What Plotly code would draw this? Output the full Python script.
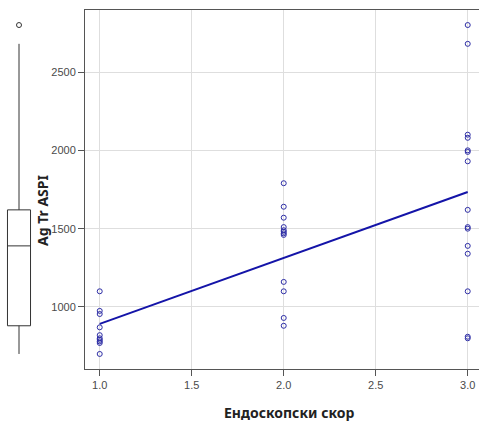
import numpy as np
import plotly.graph_objects as go

# ---- data ----
score_levels = [1.0, 2.0, 3.0]
aspi_score1 = [1100, 975, 955, 870, 820, 800, 790, 780, 770, 700]
aspi_score2 = [1790, 1640, 1570, 1510, 1490, 1480, 1470, 1460, 1160, 1100, 930, 880]
aspi_score3 = [2800, 2680, 2100, 2080, 2000, 1990, 1930, 1620, 1510, 1500, 1390, 1340, 1100, 810, 800]
x_tick_vals = [1.0, 1.5, 2.0, 2.5, 3.0]
x_tick_text = ["1.0", "1.5", "2.0", "2.5", "3.0"]
y_tick_vals = [1000, 1500, 2000, 2500]
x_title = "Ендоскопски скор"
y_title = "Ag Tr ASPI"

groups = [aspi_score1, aspi_score2, aspi_score3]
xs = np.concatenate([[lv] * len(g) for lv, g in zip(score_levels, groups)])
ys = np.concatenate(groups).astype(float)

slope, intercept = np.polyfit(xs, ys, 1)
line_x = np.array([min(score_levels), max(score_levels)])
line_y = intercept + slope * line_x

W, H = 479, 428
ML, MR, MT, MB = 0, 0, 10, 59
PLOT_L = 85

fig = go.Figure()

fig.add_trace(go.Scatter(
    x=xs, y=ys, mode="markers",
    marker=dict(symbol="circle-open", size=5, color="#2e2ea6", line=dict(width=1)),
    showlegend=False, hoverinfo="x+y",
))
fig.add_trace(go.Scatter(
    x=line_x, y=line_y, mode="lines",
    line=dict(color="#1414a8", width=2),
    showlegend=False,
))
fig.add_trace(go.Box(
    y=ys, x0=0, xaxis="x2", yaxis="y2",
    boxpoints="outliers", quartilemethod="inclusive",
    whiskerwidth=0, width=0.64,
    line=dict(color="#333333", width=1), fillcolor="white",
    marker=dict(symbol="circle-open", size=5, color="#333333"),
    showlegend=False,
))

yr = [604, 2896]
fig.update_layout(
    width=W, height=H,
    margin=dict(l=ML, r=MR, t=MT, b=MB),
    paper_bgcolor="white", plot_bgcolor="white",
    font=dict(family="Liberation Sans, Arial, sans-serif", size=11, color="#4a4a4a"),
    xaxis=dict(
        domain=[PLOT_L / W, 1], range=[0.92, 0.92 + (W - PLOT_L) / 184.0],
        tickvals=x_tick_vals, ticktext=x_tick_text,
        showgrid=True, gridcolor="#dedede", gridwidth=1,
        showline=True, linecolor="#555555", linewidth=1, mirror=True,
        ticks="outside", ticklen=6, tickcolor="#555555",
        zeroline=False, anchor="y",
    ),
    yaxis=dict(
        range=yr, tickvals=y_tick_vals,
        showgrid=True, gridcolor="#dedede", gridwidth=1,
        showline=True, linecolor="#555555", linewidth=1,
        ticks="outside", ticklen=6, tickcolor="#555555",
        zeroline=False, anchor="x",
    ),
    xaxis2=dict(domain=[1 / W, 37 / W], range=[-0.5, 0.5], visible=False, anchor="y2"),
    yaxis2=dict(range=yr, visible=False, anchor="x2"),
    annotations=[
        dict(text="<b>" + x_title + "</b>", xref="paper", yref="paper",
             x=289 / W, y=-0.12,
             xanchor="center", yanchor="middle", showarrow=False,
             font=dict(family="Noto Sans", size=14, color="#222222")),
        dict(text="<b>" + y_title + "</b>", xref="paper", yref="paper",
             x=42 / W, y=0.44, textangle=-90,
             xanchor="center", yanchor="middle", showarrow=False,
             font=dict(family="Noto Sans", size=14, color="#222222")),
    ],
)

fig.write_html("out.html")
